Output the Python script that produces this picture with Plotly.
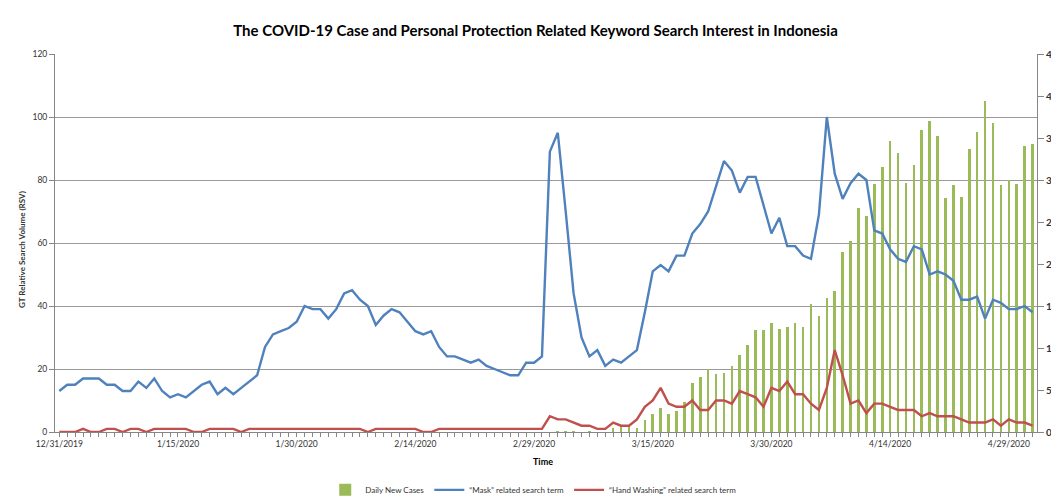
import pandas as pd
import plotly.graph_objects as go

# ---------------- data ----------------
start_date = "2019-12-31"
n_days = 124
dates = pd.date_range(start_date, periods=n_days, freq="D")

mask_rsv = [13, 15, 15, 17, 17, 17, 15, 15, 13, 13, 16, 14, 17, 13, 11, 12, 11, 13, 15, 16,
            12, 14, 12, 14, 16, 18, 27, 31, 32, 33, 35, 40, 39, 39, 36, 39, 44, 45, 42, 40,
            34, 37, 39, 38, 35, 32, 31, 32, 27, 24, 24, 23, 22, 23, 21, 20, 19, 18, 18, 22,
            22, 24, 89, 95, 70, 44, 30, 24, 26, 21, 23, 22, 24, 26, 38, 51, 53, 51, 56, 56,
            63, 66, 70, 78, 86, 83, 76, 81, 81, 72, 63, 68, 59, 59, 56, 55, 69, 100, 82, 74,
            79, 82, 80, 64, 63, 58, 55, 54, 59, 58, 50, 51, 50, 48, 42, 42, 43, 36, 42, 41,
            39, 39, 40, 38]

handwash_rsv = [0, 0, 0, 1, 0, 0, 1, 1, 0, 1, 1, 0, 1, 1, 1, 1, 1, 0, 0, 1,
                1, 1, 1, 0, 1, 1, 1, 1, 1, 1, 1, 1, 1, 1, 1, 1, 1, 1, 1, 0,
                1, 1, 1, 1, 1, 1, 0, 0, 1, 1, 1, 1, 1, 1, 1, 1, 1, 1, 1, 1,
                1, 1, 5, 4, 4, 3, 2, 2, 1, 1, 3, 2, 2, 4, 8, 10, 14, 9, 8, 8,
                10, 7, 7, 10, 10, 9, 13, 12, 11, 8, 14, 13, 16, 12, 12, 9, 7, 14, 26, 18,
                9, 10, 6, 9, 9, 8, 7, 7, 7, 5, 6, 5, 5, 5, 4, 3, 3, 3, 4, 2,
                4, 3, 3, 2]

daily_new_cases = [0] * 63 + [1, 1, 1, 0, 1, 0, 0, 5, 7, 8, 5, 14, 21, 28, 21, 25, 36,
                              58, 66, 75, 69, 70, 78, 92, 104, 121, 122, 130, 123, 125, 130,
                              125, 152, 138, 160, 168, 214, 227, 267, 257, 295, 315, 346, 332,
                              297, 318, 360, 370, 352, 278, 294, 280, 337, 357, 394, 368, 294,
                              300, 295, 340, 343]

x_tick_dates = ["2019-12-31", "2020-01-15", "2020-01-30", "2020-02-14", "2020-02-29",
                "2020-03-15", "2020-03-30", "2020-04-14", "2020-04-29"]
x_tick_labels = ["12/31/2019", "1/15/2020", "1/30/2020", "2/14/2020", "2/29/2020",
                 "3/15/2020", "3/30/2020", "4/14/2020", "4/29/2020"]

title_text = "The COVID-19 Case and Personal Protection Related Keyword Search Interest in Indonesia"

# ---------------- figure ----------------
FONT = "Lato"
GRID = "#9A9A9A"
AXIS = "#868686"
TXT = "#333333"

fig = go.Figure()
fig.add_trace(go.Bar(x=dates, y=daily_new_cases, name="Daily New Cases",
                     marker=dict(color="#9BBB59", line=dict(width=0)),
                     width=0.33 * 86400000, yaxis="y"))
fig.add_trace(go.Scatter(x=dates, y=mask_rsv, name="\u201cMask\u201d related search term",
                         mode="lines", line=dict(color="#4F81BD", width=2.4), yaxis="y2"))
fig.add_trace(go.Scatter(x=dates, y=handwash_rsv, name="\u201cHand Washing\u201d related search term",
                         mode="lines", line=dict(color="#C0504D", width=2.4), yaxis="y2"))

x0 = pd.Timestamp(start_date) - pd.Timedelta(hours=13)
x1 = pd.Timestamp(start_date) + pd.Timedelta(days=123, hours=13.5)

fig.update_layout(
    width=1051, height=501,
    margin=dict(l=55, r=14, t=54, b=69, autoexpand=False),
    paper_bgcolor="white", plot_bgcolor="white",
    font=dict(family=FONT, size=9, color=TXT),
    title=dict(text=title_text, x=535.5 / 1051, xref="container", xanchor="center",
               y=1 - 31 / 501, yref="container", yanchor="middle",
               font=dict(family=FONT, size=15, color="black", weight="bold")),
    bargap=0,
    showlegend=True,
    legend=dict(orientation="h", x=0.487, xanchor="center", y=-0.153, yanchor="middle",
                font=dict(size=8, color=TXT), itemwidth=30, tracegroupgap=0,
                bgcolor="rgba(0,0,0,0)"),
    xaxis=dict(type="date", range=[x0, x1],
               tickmode="array", tickvals=x_tick_dates, ticktext=x_tick_labels,
               ticks="outside", ticklen=4, tickcolor=AXIS, tickwidth=1,
               showline=True, linecolor=AXIS, linewidth=1, showgrid=False, zeroline=False,
               tickfont=dict(size=8.5, color=TXT),
               minor=dict(tickmode="linear", tick0=start_date, dtick=86400000,
                          ticks="outside", ticklen=4, tickcolor=AXIS, showgrid=False)),
    yaxis=dict(side="right", range=[0, 450], tickmode="linear", tick0=0, dtick=50,
               ticks="outside", ticklen=6, tickcolor=AXIS, showline=True, linecolor=AXIS,
               showgrid=False, zeroline=False,
               tickfont=dict(size=10, color=TXT, weight="bold")),
    yaxis2=dict(overlaying="y", side="left", range=[0, 120], tickmode="linear", tick0=0,
                dtick=20, ticks="outside", ticklen=5, tickcolor=AXIS, showline=True,
                linecolor=AXIS, showgrid=True, gridcolor=GRID, gridwidth=1.2,
                zeroline=False, tickfont=dict(size=8.5, color=TXT)),
)

fig.add_annotation(text="GT Relative Search Volume (RSV)", xref="paper", yref="paper",
                   x=(22 - 55) / 982, y=(432 - 250) / 378, textangle=-90, showarrow=False,
                   xanchor="center", yanchor="middle",
                   font=dict(size=8, color=TXT, family=FONT, weight="bold"))
fig.add_annotation(text="Time", xref="paper", yref="paper",
                   x=(543 - 55) / 982, y=(432 - 461) / 378, showarrow=False,
                   xanchor="center", yanchor="middle",
                   font=dict(size=9, color="black", family=FONT, weight="bold"))

fig.write_html("out.html", config={"displayModeBar": False},
               post_script="document.body.style.margin='0';document.body.style.overflow='hidden';")
